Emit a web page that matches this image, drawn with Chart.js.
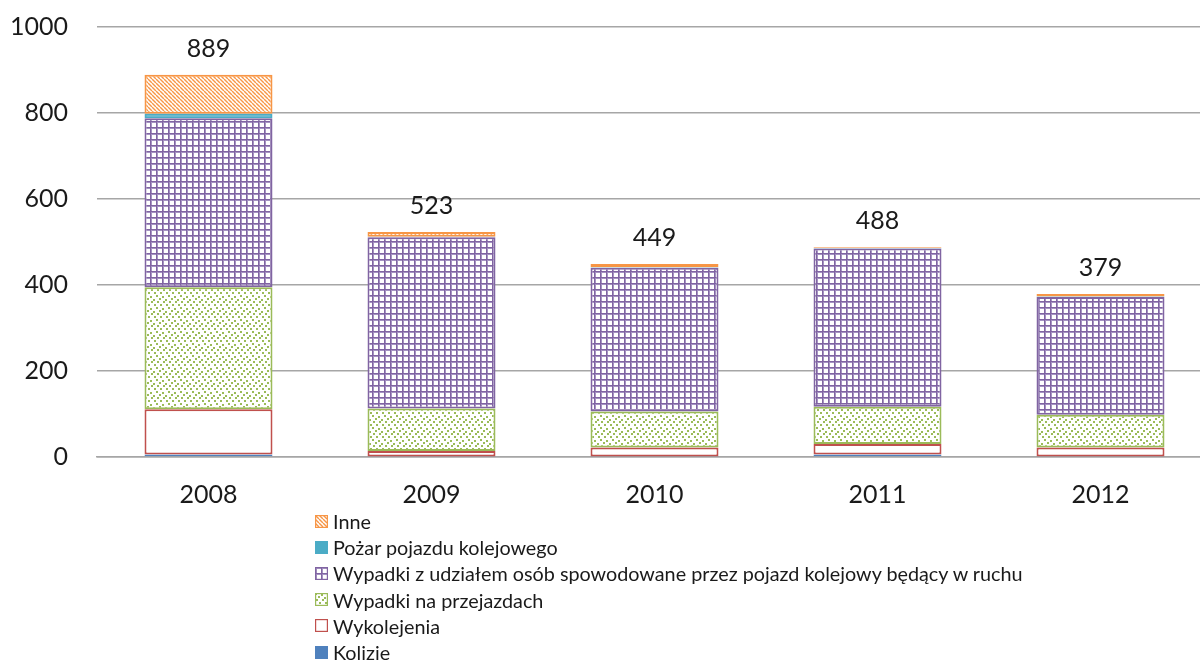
<!DOCTYPE html>
<html>
<head>
<meta charset="utf-8">
<script src="https://cdn.jsdelivr.net/npm/chart.js@4/dist/chart.umd.min.js"></script>
<style>
  html, body { margin: 0; padding: 0; background: #fff; overflow: hidden; }
  #wrap { position: relative; width: 1200px; height: 660px; overflow: hidden; }
  #chart { position: absolute; left: 0; top: -17px; }
  #legend { position: absolute; left: 315px; top: 508px; font-family: Lato, "Open Sans", sans-serif; font-size: 19.8px; color: #1a1a1a; }
  #legend div { height: 26.2px; line-height: 26.2px; white-space: nowrap; display: flex; align-items: center; }
  #legend canvas { margin-right: 5px; }
</style>
</head>
<body>
<div id="wrap">
  <canvas id="chart" width="1212" height="527" style="width:1212px;height:527px"></canvas>
  <div id="legend"></div>
</div>
<script>
const years = ["2008", "2009", "2010", "2011", "2012"];
const kolizje = [6, 1, 1, 6, 1];
const wykolejenia = [105, 13, 21, 24, 21];
const przejazdy = [284, 99, 84, 87, 76];
const wypadkiOsob = [393, 398, 334, 368, 274];
const pozar = [10, 1, 1, 1, 1];
const inne = [91, 11, 8, 2, 6];
const yTicks = [0, 200, 400, 600, 800, 1000];

const FONT = 'Lato, "Open Sans", sans-serif';

// small tile patterns like the excel fills
function makePattern(size, draw) {
  const tile = document.createElement("canvas");
  tile.width = size;
  tile.height = size;
  const t = tile.getContext("2d");
  t.fillStyle = "#fff";
  t.fillRect(0, 0, size, size);
  draw(t, size);
  return t.createPattern(tile, "repeat");
}

const stripes = makePattern(4, (t, s) => {
  t.strokeStyle = "#F79646";
  t.lineWidth = 1.4;
  [-s, 0, s].forEach(o => {
    t.beginPath();
    t.moveTo(o, 0);
    t.lineTo(o + s, s);
    t.stroke();
  });
});

const grid = makePattern(6, (t, s) => {
  t.fillStyle = "#a593c2";
  t.fillRect(0, 0, s, 2);
  t.fillRect(0, 0, 2, s);
  t.fillStyle = "#8064A2";
  t.fillRect(0, 0, s, 1);
  t.fillRect(0, 0, 1, s);
});

const dots = makePattern(12, (t) => {
  t.fillStyle = "#9BBB59";
  [[0, 0], [6, 1], [3, 3], [9, 4], [1, 6], [7, 6], [4, 9], [10, 9]].forEach(([x, y]) => t.fillRect(x, y, 2, 2));
});

const series = [
  { label: "Kolizje", data: kolizje, bg: "#4F81BD", border: "#4F81BD" },
  { label: "Wykolejenia", data: wykolejenia, bg: "#ffffff", border: "#C0504D" },
  { label: "Wypadki na przejazdach", data: przejazdy, bg: dots, border: "#9BBB59" },
  { label: "Wypadki z udziałem osób spowodowane przez pojazd kolejowy będący w ruchu", data: wypadkiOsob, bg: grid, border: "#8064A2" },
  { label: "Pożar pojazdu kolejowego", data: pozar, bg: "#4BACC6", border: "#4BACC6" },
  { label: "Inne", data: inne, bg: stripes, border: "#F79646" }
];

const totals = years.map((_, i) => series.reduce((s, d) => s + d.data[i], 0));

// totals above each stack
const totalLabels = {
  id: "totalLabels",
  afterDatasetsDraw(chart) {
    const ctx = chart.ctx;
    const meta = chart.getDatasetMeta(chart.data.datasets.length - 1);
    ctx.save();
    ctx.font = "25px " + FONT;
    ctx.fillStyle = "#1a1a1a";
    ctx.textAlign = "center";
    ctx.textBaseline = "middle";
    meta.data.forEach((bar, i) => {
      ctx.fillText(String(totals[i]), bar.x, bar.y - 26);
    });
    ctx.restore();
  }
};

new Chart(document.getElementById("chart"), {
  type: "bar",
  data: {
    labels: years,
    datasets: series.map(s => ({
      label: s.label,
      data: s.data,
      backgroundColor: s.bg,
      borderColor: s.border,
      borderWidth: 2,
      borderSkipped: false,
      barPercentage: 0.574,
      categoryPercentage: 1
    }))
  },
  options: {
    responsive: false,
    animation: false,
    layout: { padding: { top: 10, left: 0, right: 0, bottom: 0 } },
    plugins: {
      legend: { display: false },
      tooltip: { enabled: false }
    },
    scales: {
      x: {
        stacked: true,
        grid: { display: false, drawTicks: false },
        border: { color: "#a6a6a6", width: 1.5 },
        ticks: { color: "#1a1a1a", font: { family: FONT, size: 25 }, padding: 23 },
        afterFit: s => { s.height = 53; }
      },
      y: {
        stacked: true,
        min: 0,
        max: 1000,
        afterBuildTicks: s => { s.ticks = yTicks.map(v => ({ value: v })); },
        grid: { color: "#a6a6a6", lineWidth: 1.5, drawTicks: false },
        border: { display: false },
        ticks: { color: "#1a1a1a", font: { family: FONT, size: 25 }, padding: 29, callback: v => String(v) },
        afterFit: s => { s.width = 97; }
      }
    }
  },
  plugins: [totalLabels]
});

// legend, stacked top to bottom like the original
const legend = document.getElementById("legend");
series.slice().reverse().forEach(s => {
  const row = document.createElement("div");
  const sw = document.createElement("canvas");
  sw.width = 13;
  sw.height = 13;
  const c = sw.getContext("2d");
  c.fillStyle = s.bg;
  c.fillRect(0, 0, 13, 13);
  c.strokeStyle = s.border;
  c.lineWidth = 1.2;
  c.strokeRect(0.6, 0.6, 11.8, 11.8);
  const txt = document.createElement("span");
  txt.textContent = s.label;
  row.appendChild(sw);
  row.appendChild(txt);
  legend.appendChild(row);
});
</script>
</body>
</html>
